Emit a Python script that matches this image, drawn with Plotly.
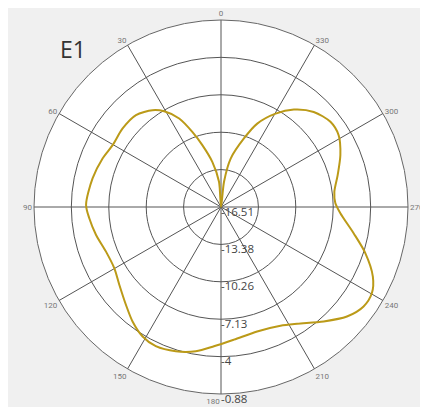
import plotly.graph_objects as go

# Pattern data: angle (deg) and gain (dB)
theta_deg = [0, 4.5, 10.9, 16.8, 20.9, 25.3, 30.7, 35.3, 42.8, 51.4, 60.3, 67.7, 77.4, 89,
             94.9, 102.6, 111.2, 119.8, 127.4, 135.8, 142.3, 148.8, 154.9, 162.6, 170.1,
             177.1, 185.6, 196.2, 206.6, 213.1, 221.9, 229, 235.1, 240.3, 245.4, 252.3,
             258.8, 267, 272, 277.7, 285.3, 293.5, 301.4, 307.9, 315.7, 323.2, 329.7,
             336.5, 341.5, 348.7, 353.2, 360]
gain_db = [-16.51, -14.39, -12.67, -11.11, -9.79, -8.33, -7.21, -6.60, -6.05, -5.99, -6.08,
           -5.81, -5.51, -5.23, -5.46, -5.81, -6.20, -6.23, -5.81, -5.11, -4.42, -3.86,
           -3.66, -3.87, -4.27, -4.85, -5.37, -5.68, -5.41, -4.86, -3.66, -2.56, -1.98,
           -1.99, -2.55, -3.85, -5.21, -6.52, -6.95, -6.95, -6.40, -5.63, -4.99, -4.92,
           -5.41, -6.34, -7.47, -8.91, -10.47, -12.38, -14.38, -16.51]

radial_ticks = [-16.51, -13.38, -10.26, -7.13, -4, -0.88]
radial_ticktext = ["-16.51", "-13.38", "-10.26", "-7.13", "-4", "-0.88"]
radial_label_angle = [180] * len(radial_ticks)
angular_ticks = [0, 30, 60, 90, 120, 150, 180, 210, 240, 270, 300, 330]
angular_ticktext = ["0", "30", "60", "90", "120", "150",
                    "180" + "\u00a0" * 8, "210", "240", "270", "300", "330"]

title_text = "E1"

fig = go.Figure()
fig.add_trace(go.Scatterpolar(
    r=gain_db, theta=theta_deg, mode="lines",
    line=dict(color="#bb9a18", width=2, shape="spline", smoothing=0.8),
    showlegend=False, hoverinfo="skip",
))
# radial tick labels, drawn along the 180 spoke
fig.add_trace(go.Scatterpolar(
    r=radial_ticks, theta=radial_label_angle, mode="text",
    text=radial_ticktext, textposition="bottom right",
    textfont=dict(size=11.5, color="#444444", family="Open Sans, sans-serif"),
    cliponaxis=False, showlegend=False, hoverinfo="skip",
))

grid_col = "#555555"
fig.update_layout(
    width=428, height=407,
    paper_bgcolor="#f0f0f0",
    margin=dict(l=26, r=28, t=12, b=21),
    font=dict(family="Open Sans, sans-serif"),
    polar=dict(
        bgcolor="white",
        domain=dict(x=[0, 1], y=[0, 1]),
        radialaxis=dict(
            range=[radial_ticks[0], radial_ticks[-1]],
            tickvals=radial_ticks, showticklabels=False,
            angle=-90, showline=False, ticks="",
            gridcolor=grid_col, gridwidth=1,
        ),
        angularaxis=dict(
            rotation=90, direction="counterclockwise",
            tickvals=angular_ticks, ticktext=angular_ticktext,
            showline=True, linecolor="#666666", linewidth=1,
            gridcolor=grid_col, gridwidth=1, ticks="",
            tickfont=dict(size=8, color="#777777", family="Roboto, sans-serif"),
        ),
    ),
    annotations=[dict(text=title_text, x=0.063, y=0.97, xref="paper", yref="paper",
                      xanchor="left", yanchor="top", showarrow=False,
                      font=dict(size=23, color="#333333", family="Open Sans, sans-serif"))],
)

fig.write_html("out.html")
